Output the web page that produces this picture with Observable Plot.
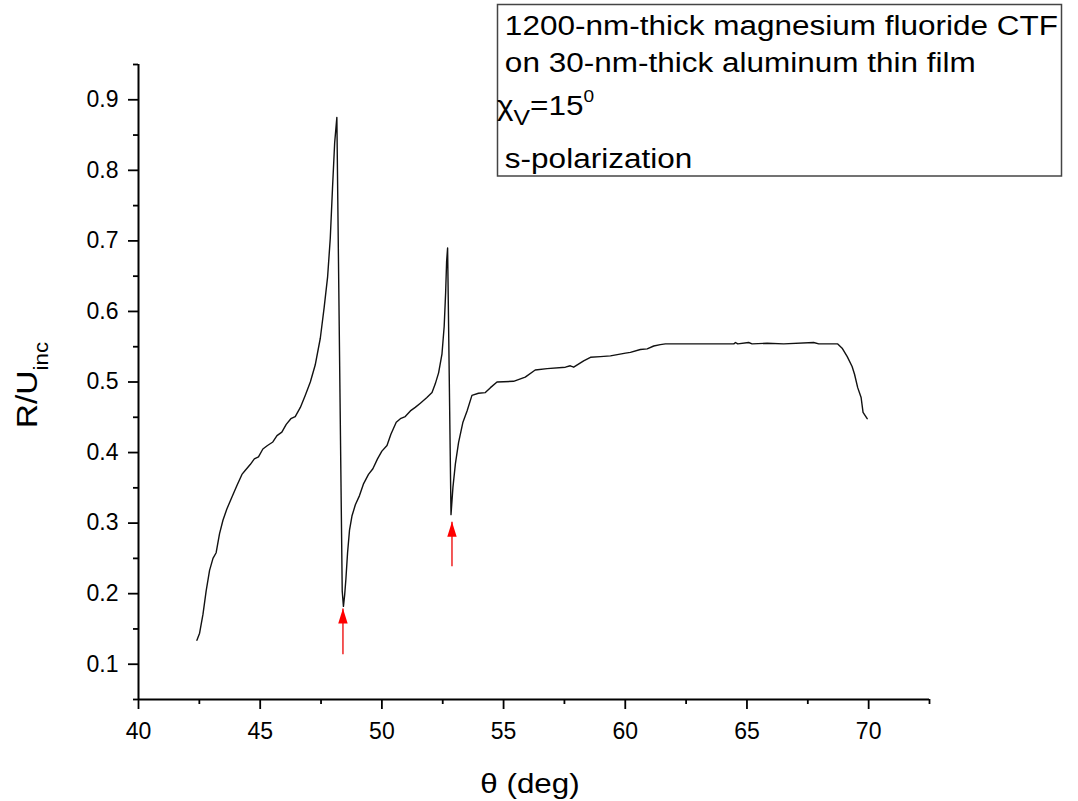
<!DOCTYPE html>
<html><head><meta charset="utf-8">
<script src="https://cdn.jsdelivr.net/npm/d3@7"></script>
<script src="https://cdn.jsdelivr.net/npm/@observablehq/plot@0.6"></script>
<style>body{margin:0;background:#fff;} #chart{width:1078px;height:801px;}</style>
</head><body><div id="chart"></div>
<script>
// Reflectance curve (theta in degrees, R/U_inc)
const theta = [42.40,42.51,42.65,42.78,42.92,43.06,43.19,43.33,43.47,43.63,43.84,44.04,44.25,44.39,44.59,44.76,44.93,45.11,45.30,45.52,45.69,45.89,46.07,46.26,46.44,46.65,46.85,47.06,47.26,47.47,47.63,47.77,47.88,47.97,48.06,48.15,48.37,48.42,48.47,48.52,48.59,48.67,48.77,48.91,49.08,49.25,49.45,49.63,49.82,50.00,50.21,50.37,50.59,50.76,50.96,51.17,51.37,51.58,51.85,52.06,52.19,52.33,52.47,52.56,52.62,52.66,52.70,52.84,52.92,53.02,53.15,53.33,53.50,53.70,53.97,54.25,54.46,54.73,55.41,55.89,56.30,56.79,57.54,57.74,57.88,58.29,58.57,58.98,59.39,60.01,60.21,60.62,60.90,61.17,61.44,61.65,64.46,64.53,64.62,65.07,65.21,65.83,66.51,67.74,67.95,68.73,68.91,69.12,69.32,69.42,69.55,69.69,69.77,69.94];
const reflectance = [0.134,0.144,0.171,0.204,0.233,0.250,0.258,0.285,0.304,0.320,0.337,0.353,0.369,0.375,0.383,0.391,0.394,0.405,0.410,0.415,0.424,0.429,0.440,0.448,0.451,0.464,0.481,0.500,0.524,0.562,0.606,0.649,0.704,0.774,0.839,0.875,0.204,0.182,0.198,0.220,0.258,0.290,0.310,0.326,0.339,0.356,0.369,0.377,0.391,0.402,0.410,0.426,0.443,0.448,0.451,0.459,0.464,0.470,0.478,0.485,0.497,0.513,0.540,0.579,0.627,0.671,0.690,0.312,0.351,0.384,0.414,0.443,0.459,0.481,0.484,0.485,0.492,0.500,0.501,0.507,0.517,0.519,0.521,0.523,0.521,0.530,0.535,0.536,0.537,0.541,0.542,0.546,0.547,0.551,0.553,0.554,0.554,0.556,0.554,0.556,0.554,0.555,0.554,0.556,0.554,0.554,0.548,0.536,0.522,0.511,0.492,0.478,0.457,0.448];

// Red arrows marking the reflectance minima
const arrowTheta = [48.40, 52.88];
const arrowTip = [0.179, 0.302];
const arrowTail = [0.114, 0.239];

// Ticks
const xMajorTicks = [40, 45, 50, 55, 60, 65, 70];
const xMinorTicks = [42.5, 47.5, 52.5, 57.5, 62.5, 67.5, 72.5];
const yMajorTicks = [0.1, 0.2, 0.3, 0.4, 0.5, 0.6, 0.7, 0.8, 0.9];
const yMinorTicks = [0.05, 0.15, 0.25, 0.35, 0.45, 0.55, 0.65, 0.75, 0.85, 0.95];

// Texts
const xLabel = "θ (deg)";
const yLabelMain = "R/U";
const yLabelSub = "inc";
const legendLines = ["1200-nm-thick magnesium fluoride CTF", "on 30-nm-thick aluminum thin film"];
const legendChi = ["χ", "V", "=15", "0"];
const legendPol = "s-polarization";

const font = '"Liberation Sans", Arial, Helvetica, sans-serif';
const data = theta.map((t, i) => ({t, r: reflectance[i]}));
const arrows = arrowTheta.map((t, i) => ({t, tip: arrowTip[i], tail: arrowTail[i]}));
const headSymbol = {draw(ctx) { ctx.moveTo(0, 0); ctx.lineTo(-4.7, 15); ctx.lineTo(4.7, 15); ctx.closePath(); }};

const plot = Plot.plot({
  width: 1078, height: 801,
  marginLeft: 138, marginRight: 149, marginTop: 64, marginBottom: 102,
  style: {fontFamily: font, background: "#fff", color: "#000", overflow: "visible"},
  x: {domain: [40, 72.5]},
  y: {domain: [0.05, 0.95]},
  marks: [
    Plot.axisX({ticks: xMajorTicks, tickSize: 10, tickPadding: 13, tickFormat: d => String(d), fontSize: 23, label: null, strokeWidth: 1.8}),
    Plot.axisX({ticks: xMinorTicks, tickSize: 5, tickFormat: () => "", label: null, strokeWidth: 1.8}),
    Plot.axisY({ticks: yMajorTicks, tickSize: 10, tickPadding: 10, tickFormat: d3.format(".1f"), fontSize: 23, label: null, strokeWidth: 1.8}),
    Plot.axisY({ticks: yMinorTicks, tickSize: 5, tickFormat: () => "", label: null, strokeWidth: 1.8}),
    Plot.ruleX([40], {stroke: "#000", strokeWidth: 2}),
    Plot.ruleY([0.05], {stroke: "#000", strokeWidth: 2}),
    Plot.line(data, {x: "t", y: "r", stroke: "#111", strokeWidth: 1.4}),
    Plot.link(arrows, {x1: "t", x2: "t", y1: "tail", y2: "tip", stroke: "#f03030", strokeWidth: 1.6}),
    Plot.dot(arrows, {x: "t", y: "tip", symbol: headSymbol, fill: "#ff0000", stroke: "none"})
  ]
});

document.getElementById("chart").appendChild(plot);
const svg = d3.select(plot);

// Axis titles
svg.append("text")
  .attr("transform", "translate(530,793) scale(1.12,1)")
  .attr("text-anchor", "middle").attr("font-family", font).attr("font-size", 28).attr("fill", "#000")
  .text(xLabel);

const yl = svg.append("text")
  .attr("transform", "translate(37,385) rotate(-90) scale(1.12,1)")
  .attr("text-anchor", "middle").attr("font-family", font).attr("font-size", 30).attr("fill", "#000");
yl.append("tspan").text(yLabelMain);
yl.append("tspan").attr("font-size", 20).attr("dy", 11).text(yLabelSub);

// Legend box
const lg = svg.append("g").attr("font-family", font).attr("fill", "#000").attr("text-anchor", "start");
lg.append("rect").attr("x", 497.5).attr("y", 4.5).attr("width", 564).attr("height", 171.5)
  .attr("fill", "#fff").attr("stroke", "#444").attr("stroke-width", 1.5);
const tg = lg.append("g").attr("transform", "translate(497,0) scale(1.125,1)").attr("font-size", 28);
tg.append("text").attr("x", 7).attr("y", 35).text(legendLines[0]);
tg.append("text").attr("x", 7).attr("y", 72).text(legendLines[1]);
const chi = tg.append("text").attr("x", 0).attr("y", 115);
chi.append("tspan").text(legendChi[0]);
chi.append("tspan").attr("font-size", 22).attr("dy", 10).text(legendChi[1]);
chi.append("tspan").attr("font-size", 28).attr("dy", -10).text(legendChi[2]);
chi.append("tspan").attr("font-size", 17).attr("dy", -13).text(legendChi[3]);
tg.append("text").attr("x", 7).attr("y", 168).text(legendPol);
</script>
</body></html>
